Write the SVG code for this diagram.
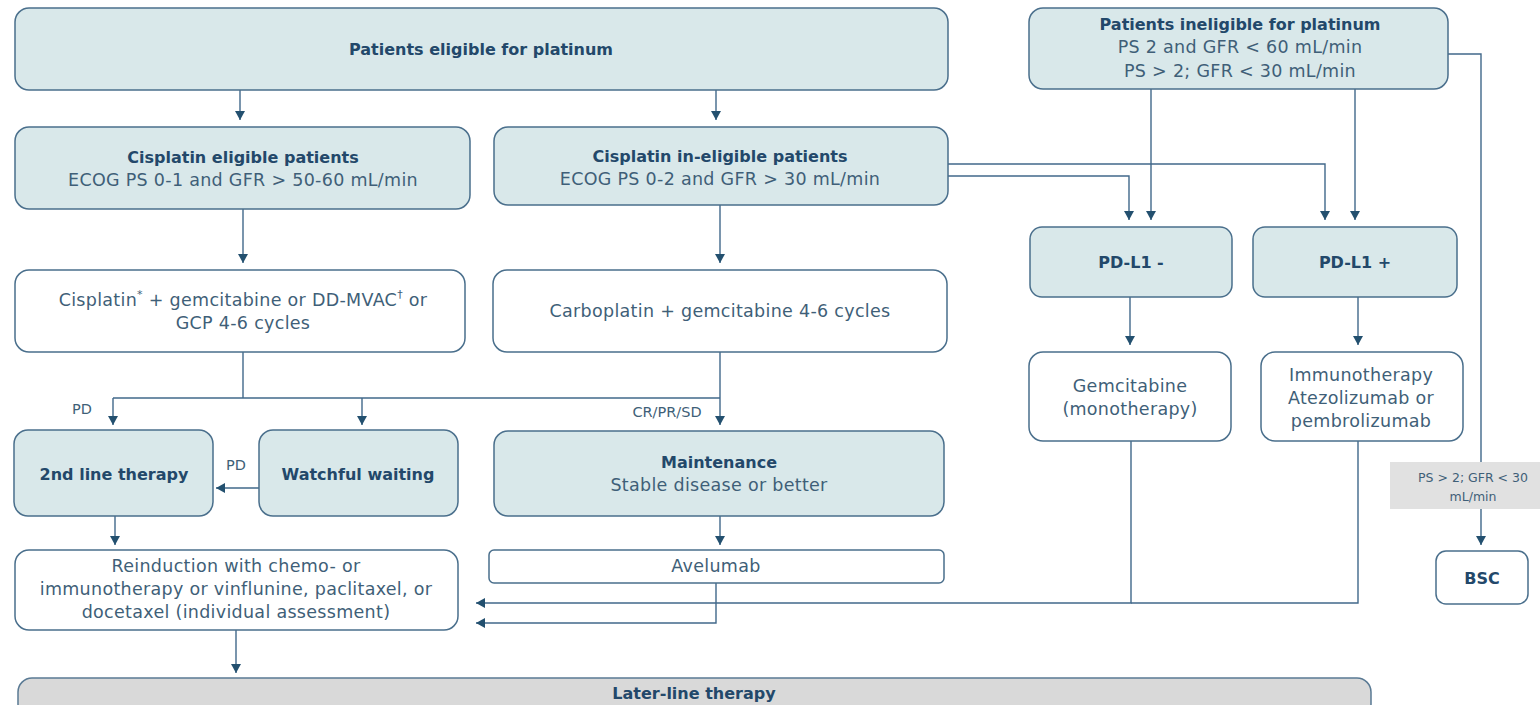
<svg xmlns="http://www.w3.org/2000/svg" width="1540" height="705" viewBox="0 0 1540 705">
<defs>
<marker id="ah" markerUnits="userSpaceOnUse" markerWidth="11" markerHeight="10" refX="9" refY="5" orient="auto">
<path d="M0,0 L9,5 L0,10 z" fill="#23506f"/>
</marker>
<style>
.bx{fill:#d9e8ea;stroke:#4a6f8c;stroke-width:1.5}
.wb{fill:#ffffff;stroke:#4a6f8c;stroke-width:1.5}
.gb{fill:#d9d9d9;stroke:#5a7a94;stroke-width:1.5}
.ln{fill:none;stroke:#41688a;stroke-width:1.4}
.t{font-family:"DejaVu Sans",sans-serif;font-size:17.5px;letter-spacing:0.3px;fill:#3f5f78;text-anchor:middle;dominant-baseline:central}
.b{font-family:"DejaVu Sans",sans-serif;font-size:16px;font-weight:bold;fill:#23486a;text-anchor:middle;dominant-baseline:central}
.s{font-family:"DejaVu Sans",sans-serif;font-size:14.5px;fill:#3f5f78;text-anchor:middle;dominant-baseline:central}
.g{font-family:"DejaVu Sans",sans-serif;font-size:12.5px;fill:#3f5f78;text-anchor:middle;dominant-baseline:central}
</style>
</defs>
<g id="connectors">
<path class="ln" d="M240,90 V120" marker-end="url(#ah)"/>
<path class="ln" d="M716,90 V120" marker-end="url(#ah)"/>
<path class="ln" d="M243,209 V263" marker-end="url(#ah)"/>
<path class="ln" d="M720,205 V263" marker-end="url(#ah)"/>
<path class="ln" d="M948,164 H1325 V220" marker-end="url(#ah)"/>
<path class="ln" d="M948,176 H1129 V220" marker-end="url(#ah)"/>
<path class="ln" d="M1151,89 V220" marker-end="url(#ah)"/>
<path class="ln" d="M1355,89 V220" marker-end="url(#ah)"/>
<path class="ln" d="M1448,54 H1481 V545" marker-end="url(#ah)"/>
<path class="ln" d="M1130,297 V345" marker-end="url(#ah)"/>
<path class="ln" d="M1358,297 V345" marker-end="url(#ah)"/>
<path class="ln" d="M1358,441 V603 H1131"/>
<path class="ln" d="M1131,441 V603 H476" marker-end="url(#ah)"/>
<path class="ln" d="M716,583 V623 H476" marker-end="url(#ah)"/>
<path class="ln" d="M243,352 V398"/>
<path class="ln" d="M113,398 H720"/>
<path class="ln" d="M113,398 V425" marker-end="url(#ah)"/>
<path class="ln" d="M362,398 V425" marker-end="url(#ah)"/>
<path class="ln" d="M720,352 V425" marker-end="url(#ah)"/>
<path class="ln" d="M259,488 H216" marker-end="url(#ah)"/>
<path class="ln" d="M115,516 V545" marker-end="url(#ah)"/>
<path class="ln" d="M720,516 V545" marker-end="url(#ah)"/>
<path class="ln" d="M236,630 V673" marker-end="url(#ah)"/>
<text class="s" x="82" y="409">PD</text>
<text class="s" x="236" y="465">PD</text>
<text class="s" x="667" y="412">CR/PR/SD</text>
</g>
<g id="eligible">
<rect class="bx" x="15" y="8" width="933" height="82" rx="14"/>
<text class="b" x="481" y="49">Patients eligible for platinum</text>
</g>
<g id="ineligible">
<rect class="bx" x="1029" y="8" width="419" height="81" rx="14"/>
<text class="b" x="1240" y="24">Patients ineligible for platinum</text>
<text class="t" x="1240" y="47">PS 2 and GFR &lt; 60 mL/min</text>
<text class="t" x="1240" y="71">PS &gt; 2; GFR &lt; 30 mL/min</text>
</g>
<g id="cis-eligible">
<rect class="bx" x="15" y="127" width="455" height="82" rx="14"/>
<text class="b" x="243" y="157">Cisplatin eligible patients</text>
<text class="t" x="243" y="180">ECOG PS 0-1 and GFR &gt; 50-60 mL/min</text>
</g>
<g id="cis-ineligible">
<rect class="bx" x="494" y="127" width="454" height="78" rx="14"/>
<text class="b" x="720" y="156">Cisplatin in-eligible patients</text>
<text class="t" x="720" y="179">ECOG PS 0-2 and GFR &gt; 30 mL/min</text>
</g>
<g id="cisplatin-regimen">
<rect class="wb" x="15" y="270" width="450" height="82" rx="14"/>
<text class="t" x="243" y="300">Cisplatin<tspan font-size="11" dy="-6">*</tspan><tspan dy="6"> + gemcitabine or DD-MVAC</tspan><tspan font-size="11" dy="-6">†</tspan><tspan dy="6"> or</tspan></text>
<text class="t" x="243" y="323">GCP 4-6 cycles</text>
</g>
<g id="carboplatin">
<rect class="wb" x="493" y="270" width="454" height="82" rx="14"/>
<text class="t" x="720" y="311">Carboplatin + gemcitabine 4-6 cycles</text>
</g>
<g id="pdl1-neg">
<rect class="bx" x="1030" y="227" width="202" height="70" rx="12"/>
<text class="b" x="1131" y="262">PD-L1 -</text>
</g>
<g id="pdl1-pos">
<rect class="bx" x="1253" y="227" width="204" height="70" rx="12"/>
<text class="b" x="1355" y="262">PD-L1 +</text>
</g>
<g id="gemcitabine">
<rect class="wb" x="1029" y="352" width="202" height="89" rx="14"/>
<text class="t" x="1130" y="386">Gemcitabine</text>
<text class="t" x="1130" y="409">(monotherapy)</text>
</g>
<g id="immunotherapy">
<rect class="wb" x="1261" y="352" width="202" height="89" rx="14"/>
<text class="t" x="1361" y="375">Immunotherapy</text>
<text class="t" x="1361" y="398">Atezolizumab or</text>
<text class="t" x="1361" y="421">pembrolizumab</text>
</g>
<g id="second-line">
<rect class="bx" x="14" y="430" width="199" height="86" rx="14"/>
<text class="b" x="114" y="474">2nd line therapy</text>
</g>
<g id="watchful">
<rect class="bx" x="259" y="430" width="199" height="86" rx="14"/>
<text class="b" x="358" y="474">Watchful waiting</text>
</g>
<g id="maintenance">
<rect class="bx" x="494" y="431" width="450" height="85" rx="14"/>
<text class="b" x="719" y="462">Maintenance</text>
<text class="t" x="719" y="485">Stable disease or better</text>
</g>
<g id="reinduction">
<rect class="wb" x="15" y="550" width="443" height="80" rx="14"/>
<text class="t" x="236" y="566">Reinduction with chemo- or</text>
<text class="t" x="236" y="589">immunotherapy or vinflunine, paclitaxel, or</text>
<text class="t" x="236" y="612">docetaxel (individual assessment)</text>
</g>
<g id="avelumab">
<rect class="wb" x="489" y="550" width="455" height="33" rx="5"/>
<text class="t" x="716" y="566">Avelumab</text>
</g>
<g id="ps-label">
<rect x="1390" y="462" width="150" height="47" fill="#e1e1e1"/>
<text class="g" x="1473" y="477">PS &gt; 2; GFR &lt; 30</text>
<text class="g" x="1473" y="496">mL/min</text>
</g>
<g id="bsc">
<rect class="wb" x="1436" y="551" width="92" height="53" rx="10"/>
<text class="b" x="1482" y="578">BSC</text>
</g>
<g id="later-line">
<rect class="gb" x="18" y="678" width="1353" height="40" rx="14"/>
<text class="b" x="694" y="693">Later-line therapy</text>
</g>
</svg>
